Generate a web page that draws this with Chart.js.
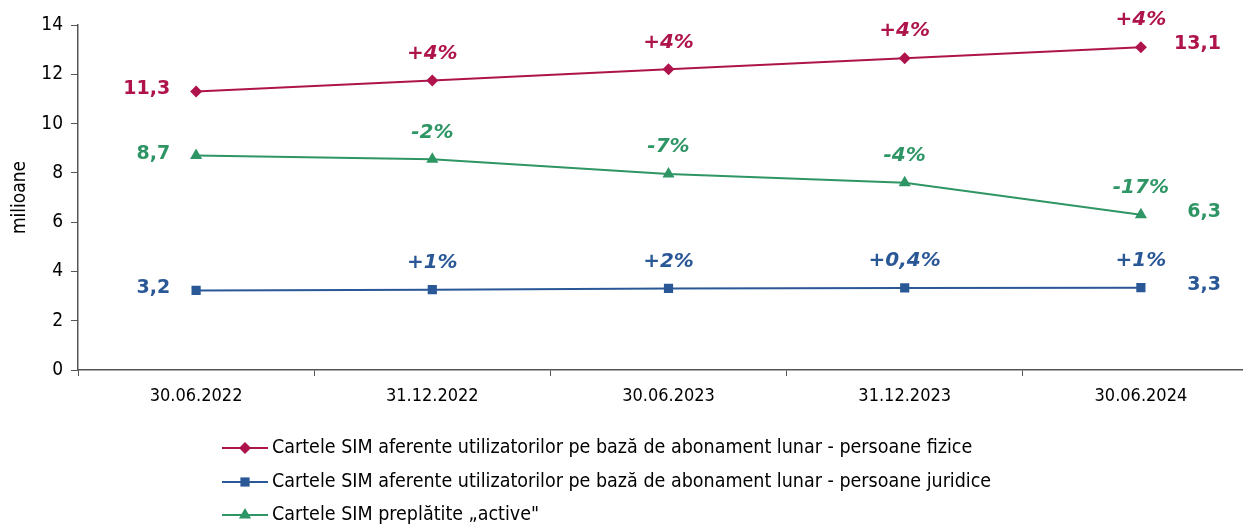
<!DOCTYPE html>
<html>
<head>
<meta charset="utf-8">
<script src="https://cdn.jsdelivr.net/npm/chart.js@4/dist/chart.umd.min.js"></script>
<style>
  html, body { margin: 0; padding: 0; background: #fff; overflow: hidden; }
</style>
</head>
<body>
<canvas id="chart" width="1266" height="524"></canvas>
<script>
const categories = ['30.06.2022', '31.12.2022', '30.06.2023', '31.12.2023', '30.06.2024'];

const fiziceValues = [11.3, 11.75, 12.2, 12.65, 13.1];
const juridiceValues = [3.23, 3.26, 3.31, 3.33, 3.34];
const activeValues = [8.7, 8.55, 7.95, 7.6, 6.3];

const fiziceChange = [null, '+4%', '+4%', '+4%', '+4%'];
const juridiceChange = [null, '+1%', '+2%', '+0,4%', '+1%'];
const activeChange = [null, '-2%', '-7%', '-4%', '-17%'];

const seriesNames = [
  'Cartele SIM aferente utilizatorilor pe bază de abonament lunar - persoane fizice',
  'Cartele SIM aferente utilizatorilor pe bază de abonament lunar - persoane juridice',
  'Cartele SIM preplătite „active"'
];

const yTicks = [0, 2, 4, 6, 8, 10, 12, 14];

const RED = '#AE144B';
const BLUE = '#2A5897';
const GREEN = '#2E9564';
const FONT = '"DejaVu Sans Condensed", "DejaVu Sans", sans-serif';
const LABEL_FONT = '"DejaVu Sans", sans-serif';

const fmt = (v) => v.toFixed(1).replace('.', ',');

// labels: % change above each point, value at first and last point
const labelPlugin = {
  id: 'pointLabels',
  afterDatasetsDraw(chart) {
    const ctx = chart.ctx;
    chart.data.datasets.forEach((ds, di) => {
      const meta = chart.getDatasetMeta(di);
      const pts = meta.data;
      ctx.save();
      ctx.fillStyle = ds.borderColor;
      ctx.textBaseline = 'middle';

      ctx.font = 'italic bold 20px ' + LABEL_FONT;
      ctx.textAlign = 'center';
      ds.changes.forEach((c, i) => {
        if (c) ctx.fillText(c, pts[i].x, pts[i].y - 27);
      });

      ctx.font = 'bold 19px ' + LABEL_FONT;
      ctx.textAlign = 'right';
      const first = pts[0];
      ctx.fillText(fmt(ds.data[0]), first.x - 26, first.y - 2);
      const last = pts[pts.length - 1];
      ctx.fillText(fmt(ds.data[ds.data.length - 1]), last.x + 80, last.y - 3);
      ctx.restore();
    });
  }
};

function drawMarker(ctx, style, x, y, r) {
  ctx.beginPath();
  if (style === 'rectRot') {
    ctx.moveTo(x, y - r); ctx.lineTo(x + r, y); ctx.lineTo(x, y + r); ctx.lineTo(x - r, y);
  } else if (style === 'rect') {
    const s = r * Math.SQRT1_2;
    ctx.rect(x - s, y - s, s * 2, s * 2);
  } else {
    ctx.moveTo(x, y - r); ctx.lineTo(x + r * 0.87, y + r * 0.5); ctx.lineTo(x - r * 0.87, y + r * 0.5);
  }
  ctx.closePath();
  ctx.fill();
}

// legend, one series per row, under the chart
const legendPlugin = {
  id: 'rowLegend',
  afterDraw(chart) {
    const ctx = chart.ctx;
    const x0 = 222;
    const rows = [448, 482, 515];
    ctx.save();
    chart.data.datasets.forEach((ds, i) => {
      const y = rows[i];
      ctx.strokeStyle = ds.borderColor;
      ctx.fillStyle = ds.borderColor;
      ctx.lineWidth = 2;
      ctx.beginPath();
      ctx.moveTo(x0, y);
      ctx.lineTo(x0 + 46, y);
      ctx.stroke();
      drawMarker(ctx, ds.pointStyle, x0 + 23, y, ds.pointRadius);
      ctx.fillStyle = '#000';
      ctx.font = '19.5px ' + FONT;
      ctx.textAlign = 'left';
      ctx.textBaseline = 'middle';
      ctx.fillText(ds.label, x0 + 50, y);
    });
    ctx.restore();
  }
};

const mkSet = (label, data, changes, color, style, radius) => ({
  label: label,
  data: data,
  changes: changes,
  borderColor: color,
  backgroundColor: color,
  pointBackgroundColor: color,
  pointBorderColor: color,
  pointStyle: style,
  pointRadius: radius,
  pointBorderWidth: 0,
  borderWidth: 2,
  tension: 0
});

new Chart(document.getElementById('chart'), {
  type: 'line',
  data: {
    labels: categories,
    datasets: [
      mkSet(seriesNames[0], fiziceValues, fiziceChange, RED, 'rectRot', 6),
      mkSet(seriesNames[1], juridiceValues, juridiceChange, BLUE, 'rect', 6.5),
      mkSet(seriesNames[2], activeValues, activeChange, GREEN, 'triangle', 7)
    ]
  },
  options: {
    responsive: false,
    animation: false,
    devicePixelRatio: 1,
    layout: { padding: { top: 25, bottom: 104, left: 0, right: 0 } },
    plugins: {
      legend: { display: false },
      tooltip: { enabled: false }
    },
    scales: {
      x: {
        offset: true,
        grid: { display: true, drawOnChartArea: false, offset: true, tickLength: 6, color: '#555' },
        border: { color: '#555', width: 1.5 },
        ticks: { color: '#000', font: { family: FONT, size: 18 }, padding: 10, maxRotation: 0 },
        afterFit(scale) { scale.height = 50; }
      },
      y: {
        min: 0,
        max: 14,
        afterBuildTicks(scale) { scale.ticks = yTicks.map((v) => ({ value: v })); },
        grid: { display: true, drawOnChartArea: false, tickLength: 7, color: '#555' },
        border: { color: '#555', width: 1.5 },
        ticks: { color: '#000', font: { family: FONT, size: 19 }, padding: 8 },
        title: { display: true, text: 'milioane', color: '#000', font: { family: FONT, size: 19 }, padding: { top: 9, bottom: 0 } },
        afterFit(scale) { scale.width = 78; }
      }
    }
  },
  plugins: [labelPlugin, legendPlugin]
});
</script>
</body>
</html>
